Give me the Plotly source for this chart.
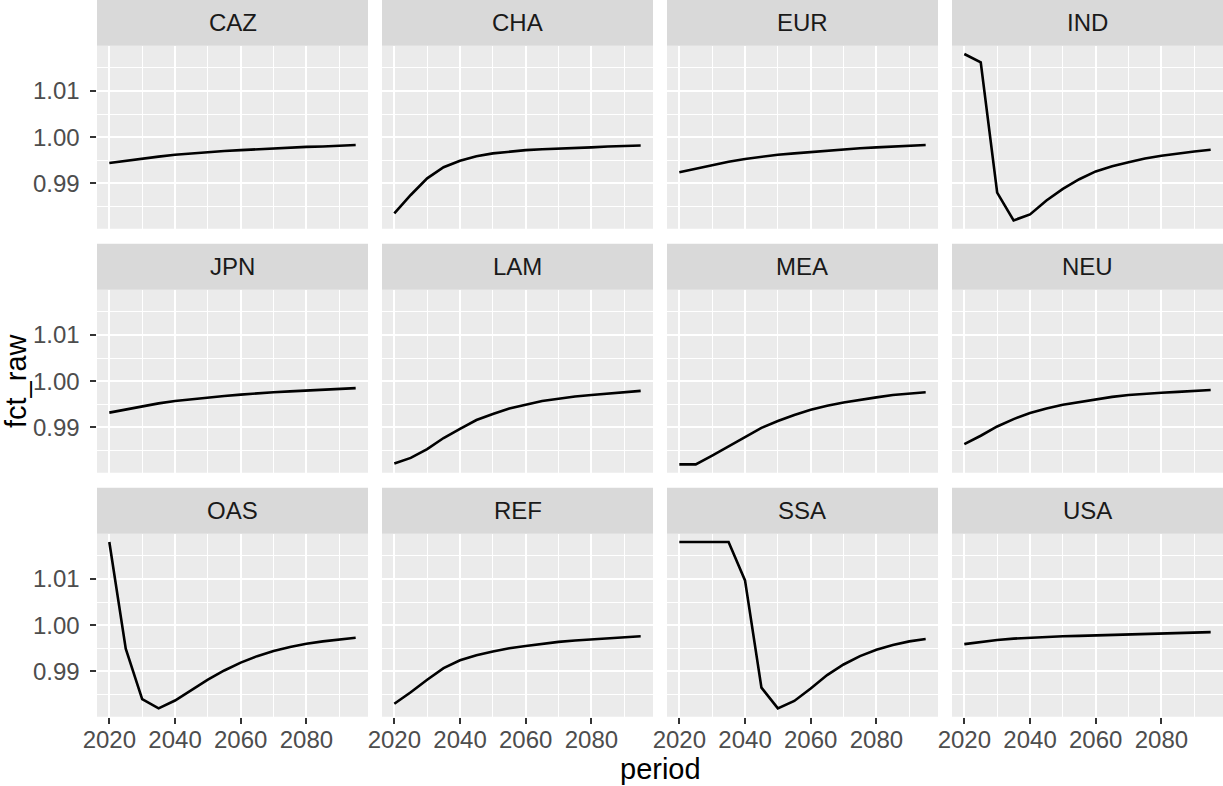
import plotly.graph_objects as go

W, H = 1223, 786

periods = [2020, 2025, 2030, 2035, 2040, 2045, 2050, 2055, 2060, 2065, 2070, 2075, 2080, 2085, 2090, 2095]

regions = ["CAZ", "CHA", "EUR", "IND", "JPN", "LAM", "MEA", "NEU", "OAS", "REF", "SSA", "USA"]

CAZ = [0.9944, 0.9949, 0.9954, 0.9958, 0.9962, 0.9965, 0.9967, 0.9970, 0.9972, 0.9974, 0.9976, 0.9978, 0.9979, 0.9980, 0.9981, 0.9983]
CHA = [0.9835, 0.9875, 0.9911, 0.9935, 0.9949, 0.9959, 0.9965, 0.9969, 0.9972, 0.9974, 0.9975, 0.9977, 0.9978, 0.9980, 0.9981, 0.9982]
EUR = [0.9924, 0.9932, 0.9940, 0.9947, 0.9953, 0.9958, 0.9962, 0.9965, 0.9968, 0.9971, 0.9974, 0.9976, 0.9978, 0.9980, 0.9981, 0.9983]
IND = [1.0180, 1.0162, 0.9880, 0.9820, 0.9833, 0.9863, 0.9888, 0.9909, 0.9926, 0.9937, 0.9946, 0.9954, 0.9960, 0.9965, 0.9969, 0.9973]
JPN = [0.9932, 0.9939, 0.9946, 0.9952, 0.9957, 0.9961, 0.9965, 0.9968, 0.9971, 0.9974, 0.9976, 0.9978, 0.9980, 0.9982, 0.9983, 0.9985]
LAM = [0.9822, 0.9834, 0.9853, 0.9877, 0.9897, 0.9916, 0.9929, 0.9941, 0.9949, 0.9957, 0.9962, 0.9967, 0.9970, 0.9973, 0.9976, 0.9979]
MEA = [0.9820, 0.9820, 0.9839, 0.9859, 0.9880, 0.9899, 0.9914, 0.9927, 0.9938, 0.9947, 0.9954, 0.9960, 0.9965, 0.9970, 0.9973, 0.9976]
NEU = [0.9864, 0.9882, 0.9902, 0.9918, 0.9931, 0.9941, 0.9949, 0.9955, 0.9960, 0.9966, 0.9970, 0.9973, 0.9975, 0.9977, 0.9979, 0.9981]
OAS = [1.0180, 0.9949, 0.9840, 0.9820, 0.9837, 0.9859, 0.9882, 0.9902, 0.9919, 0.9933, 0.9944, 0.9953, 0.9960, 0.9965, 0.9969, 0.9973]
REF = [0.9830, 0.9855, 0.9882, 0.9907, 0.9924, 0.9935, 0.9943, 0.9950, 0.9955, 0.9960, 0.9964, 0.9967, 0.9969, 0.9971, 0.9973, 0.9976]
SSA = [1.0180, 1.0180, 1.0180, 1.0180, 1.0097, 0.9865, 0.9820, 0.9836, 0.9863, 0.9892, 0.9915, 0.9933, 0.9947, 0.9957, 0.9965, 0.9970]
USA = [0.9959, 0.9964, 0.9968, 0.9971, 0.9973, 0.9975, 0.9976, 0.9977, 0.9978, 0.9979, 0.9980, 0.9981, 0.9982, 0.9983, 0.9984, 0.9985]

series = {"CAZ": CAZ, "CHA": CHA, "EUR": EUR, "IND": IND, "JPN": JPN, "LAM": LAM,
          "MEA": MEA, "NEU": NEU, "OAS": OAS, "REF": REF, "SSA": SSA, "USA": USA}

x_ticks = [2020, 2040, 2060, 2080]
x_minor = [2030, 2050, 2070, 2090]
y_ticks = [0.99, 1.00, 1.01]
y_ticktext = ["0.99", "1.00", "1.01"]
y_minor = [0.985, 0.995, 1.005, 1.015]

FONT = "Liberation Sans, Arial, Helvetica, sans-serif"
TICK_SIZE = 24
TITLE_SIZE = 29

# layout geometry (pixels)
col_left = [97, 382, 667, 952]
panel_w = 271
row_top = [45.7, 289.7, 533.7]
panel_h = 183
strip_h = 46

# data ranges with ggplot 5% expansion
all_vals = [v for r in regions for v in series[r]]
ymin, ymax = min(all_vals), max(all_vals)
yexp = (ymax - ymin) * 0.05
xexp = (max(periods) - min(periods)) * 0.05
xrange = [min(periods) - xexp, max(periods) + xexp]
yrange = [ymin - yexp, ymax + yexp]

fig = go.Figure()
shapes = []
annotations = []

for i, reg in enumerate(regions):
    r, c = divmod(i, 4)
    idx = i + 1
    xa = "x" if idx == 1 else f"x{idx}"
    ya = "y" if idx == 1 else f"y{idx}"
    fig.add_trace(go.Scatter(x=periods, y=series[reg], mode="lines",
                             line=dict(color="black", width=2.6),
                             xaxis=xa, yaxis=ya, showlegend=False,
                             hoverinfo="skip"))
    x0 = col_left[c] / W
    x1 = (col_left[c] + panel_w) / W
    yt = 1 - row_top[r] / H
    yb = 1 - (row_top[r] + panel_h) / H
    bottom = (r == 2)
    left = (c == 0)
    xkey = "xaxis" if idx == 1 else f"xaxis{idx}"
    ykey = "yaxis" if idx == 1 else f"yaxis{idx}"
    fig.layout[xkey] = dict(
        domain=[x0, x1], anchor=ya, range=xrange, tickvals=x_ticks,
        showgrid=True, gridcolor="white", gridwidth=2, zeroline=False,
        showline=False, showticklabels=bottom, automargin=False,
        ticks="outside" if bottom else "", ticklen=6.5, tickwidth=2, tickcolor="#333333",
        ticklabelstandoff=-5,
        tickfont=dict(family=FONT, size=TICK_SIZE, color="#4D4D4D"),
        minor=dict(tickvals=x_minor, showgrid=True, gridcolor="white", gridwidth=1, ticks=""),
        fixedrange=True,
    )
    fig.layout[ykey] = dict(
        domain=[yb, yt], anchor=xa, range=yrange, tickvals=y_ticks, ticktext=y_ticktext,
        showgrid=True, gridcolor="white", gridwidth=2, zeroline=False,
        showline=False, showticklabels=left, automargin=False,
        ticks="outside" if left else "", ticklen=6.5, tickwidth=2, tickcolor="#333333",
        ticklabelstandoff=5,
        tickfont=dict(family=FONT, size=TICK_SIZE, color="#4D4D4D"),
        minor=dict(tickvals=y_minor, showgrid=True, gridcolor="white", gridwidth=1, ticks=""),
        fixedrange=True,
    )
    # panel background
    shapes.append(dict(type="rect", xref="paper", yref="paper", x0=x0, x1=x1, y0=yb, y1=yt,
                       fillcolor="#EBEBEB", line=dict(width=0), layer="below"))
    # strip
    s_top = 1 - (row_top[r] - strip_h) / H
    shapes.append(dict(type="rect", xref="paper", yref="paper", x0=x0, x1=x1, y0=yt, y1=s_top,
                       fillcolor="#D9D9D9", line=dict(width=0), layer="below"))
    annotations.append(dict(text=reg, xref="paper", yref="paper", x=(x0 + x1) / 2,
                            y=(yt + s_top) / 2, showarrow=False, xanchor="center", yanchor="middle",
                            font=dict(family=FONT, size=TICK_SIZE, color="#1A1A1A")))

annotations.append(dict(text="period", xref="paper", yref="paper",
                        x=((col_left[0] + col_left[3] + panel_w) / 2) / W, y=1 - 769 / H,
                        showarrow=False, xanchor="center", yanchor="middle",
                        font=dict(family=FONT, size=TITLE_SIZE, color="black")))
annotations.append(dict(text="fct_raw", xref="paper", yref="paper",
                        x=16 / W, y=1 - 381 / H, textangle=-90,
                        showarrow=False, xanchor="center", yanchor="middle",
                        font=dict(family=FONT, size=TITLE_SIZE, color="black")))

fig.update_layout(width=W, height=H, margin=dict(l=0, r=0, t=0, b=0, autoexpand=False),
                  paper_bgcolor="white", plot_bgcolor="rgba(0,0,0,0)",
                  shapes=shapes, annotations=annotations, showlegend=False)

fig.write_html("out.html", config={"displayModeBar": False},
               post_script="document.body.style.margin='0';document.body.style.overflow='hidden';")
